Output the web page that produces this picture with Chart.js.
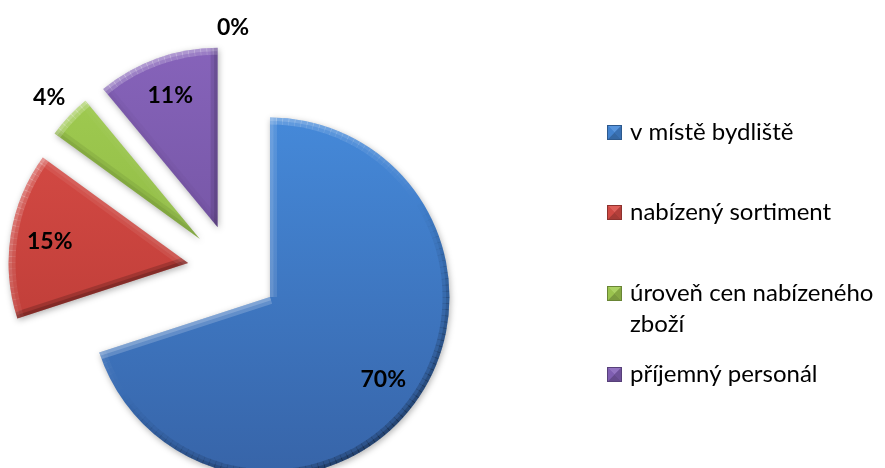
<!DOCTYPE html>
<html>
<head>
<meta charset="utf-8">
<script src="https://cdn.jsdelivr.net/npm/chart.js@4.4.1/dist/chart.umd.min.js"></script>
<style>
  html, body { margin: 0; padding: 0; background: #ffffff; }
  #wrap { width: 885px; height: 468px; }
</style>
</head>
<body>
<div id="wrap"><canvas id="chart" width="885" height="468"></canvas></div>
<script>
// Categories and their shares (percent)
const categories = ['v místě bydliště', 'nabízený sortiment', 'úroveň cen nabízeného zboží', 'příjemný personál', 'ostatní'];
const shares = [70, 15, 4, 11, 0];
// Slice colours: lighter top tone and darker bottom tone of each slice
const topColors = ['#4589d9', '#da4d47', '#a2cd52', '#8663ba', '#f7964a'];
const bottomColors = ['#3764a8', '#b43833', '#82ad3c', '#694c95', '#d4782e'];

const EXPLODE = 45.6;      // distance every slice is pulled away from the centre
const BEVEL = 7;           // width of the bevelled rim
const LIGHT = (() => { const x = -0.55, y = -0.85, l = Math.hypot(x, y); return { x: x / l, y: y / l }; })();
const LABEL_FONT = 'bold 23px Lato, "Liberation Sans", sans-serif';
const LEGEND_FONT = '24px Lato, "Liberation Sans", sans-serif';

function slicePath(ctx, x, y, r, a0, a1) {
  ctx.beginPath();
  ctx.moveTo(x, y);
  ctx.arc(x, y, r, a0, a1);
  ctx.closePath();
}

function shadeFor(nx, ny) {
  const k = nx * LIGHT.x + ny * LIGHT.y;
  return k >= 0 ? 'rgba(255,255,255,' + (0.36 * k).toFixed(3) + ')'
                : 'rgba(0,0,0,' + (0.34 * -k).toFixed(3) + ')';
}

function strokeBevel(ctx, color, drawSeg) {
  ctx.strokeStyle = color;
  ctx.lineCap = 'butt';
  ctx.lineWidth = BEVEL * 2;
  ctx.globalAlpha = 0.55;
  ctx.beginPath(); drawSeg(); ctx.stroke();
  ctx.lineWidth = BEVEL;
  ctx.beginPath(); drawSeg(); ctx.stroke();
  ctx.globalAlpha = 1;
}

// Draws the pie slices pulled apart, each with a bevelled rim
const explodedSlices = {
  id: 'explodedSlices',
  beforeDatasetDraw(chart, args) {
    const ctx = chart.ctx;
    const meta = args.meta;
    meta.data.forEach((arc, i) => {
      const { x, y, startAngle: a0, endAngle: a1, outerRadius: r } = arc;
      if (a1 - a0 <= 0) return;
      const mid = (a0 + a1) / 2;
      ctx.save();
      ctx.translate(Math.cos(mid) * EXPLODE, Math.sin(mid) * EXPLODE);

      const fill = ctx.createLinearGradient(0, y - r, 0, y + r);
      fill.addColorStop(0, topColors[i]);
      fill.addColorStop(1, bottomColors[i]);
      ctx.shadowColor = 'rgba(0,0,0,0.3)';
      ctx.shadowBlur = 6;
      ctx.shadowOffsetX = 1;
      ctx.shadowOffsetY = 2;
      slicePath(ctx, x, y, r, a0, a1);
      ctx.fillStyle = fill;
      ctx.fill();
      ctx.shadowColor = 'transparent';

      slicePath(ctx, x, y, r, a0, a1);
      ctx.clip();
      // radial edges
      strokeBevel(ctx, shadeFor(Math.sin(a0), -Math.cos(a0)), () => {
        ctx.moveTo(x, y); ctx.lineTo(x + Math.cos(a0) * r, y + Math.sin(a0) * r);
      });
      strokeBevel(ctx, shadeFor(-Math.sin(a1), Math.cos(a1)), () => {
        ctx.moveTo(x, y); ctx.lineTo(x + Math.cos(a1) * r, y + Math.sin(a1) * r);
      });
      // outer rim in short pieces, each shaded by its own normal
      const step = Math.PI / 90;
      for (let t = a0; t < a1; t += step) {
        const t2 = Math.min(a1, t + step);
        const tm = (t + t2) / 2;
        strokeBevel(ctx, shadeFor(Math.cos(tm), Math.sin(tm)), () => {
          ctx.arc(x, y, r, t, t2 + 0.004);
        });
      }
      ctx.restore();
    });
    return false;
  }
};

// Percentage labels: inside large slices, just outside small ones
const sliceLabels = {
  id: 'sliceLabels',
  afterDraw(chart) {
    const ctx = chart.ctx;
    const meta = chart.getDatasetMeta(0);
    ctx.save();
    ctx.font = LABEL_FONT;
    ctx.fillStyle = '#000000';
    ctx.textAlign = 'center';
    ctx.textBaseline = 'middle';
    meta.data.forEach((arc, i) => {
      const { x, y, startAngle: a0, endAngle: a1, outerRadius: r } = arc;
      const mid = (a0 + a1) / 2;
      const dx = Math.cos(mid), dy = Math.sin(mid);
      const text = shares[i] + '%';
      const w = ctx.measureText(text).width;
      const h = 16;
      let dist;
      if (shares[i] >= 5) {
        dist = r * 0.78;
      } else {
        dist = r + 10 + Math.abs(dx) * w / 2 + Math.abs(dy) * h / 2;
      }
      const cx = x + dx * (EXPLODE + dist);
      const cy = y + dy * (EXPLODE + dist);
      ctx.fillText(text, cx, cy);
    });
    ctx.restore();
  }
};

function wrapWords(ctx, text, maxWidth) {
  const words = text.split(' ');
  const lines = [];
  let line = '';
  words.forEach(wd => {
    const test = line ? line + ' ' + wd : wd;
    if (line && ctx.measureText(test).width > maxWidth) { lines.push(line); line = wd; }
    else line = test;
  });
  if (line) lines.push(line);
  return lines;
}

function mix(hex, target, amt) {
  const n = parseInt(hex.slice(1), 16);
  const c = [(n >> 16) & 255, (n >> 8) & 255, n & 255];
  return 'rgb(' + c.map(v => Math.round(v + (target - v) * amt)).join(',') + ')';
}

// Legend on the right: bevelled square marker and wrapped text
const sideLegend = {
  id: 'sideLegend',
  afterDraw(chart) {
    const ctx = chart.ctx;
    const left = 607, box = 15, textX = 630, firstY = 132, step = 80.7, lineH = 31;
    ctx.save();
    ctx.font = LEGEND_FONT;
    ctx.textBaseline = 'middle';
    ctx.textAlign = 'left';
    let k = 0;
    categories.forEach((name, i) => {
      if (!(shares[i] > 0)) return;
      const cy = firstY + k * step;
      const bx = left, by = Math.round(cy - box / 2);
      const base = topColors[i];
      ctx.fillStyle = mix(base, 0, 0.1);
      ctx.fillRect(bx, by, box, box);
      // pyramid facets
      const cxm = bx + box / 2, cym = by + box / 2;
      const facet = (pts, col) => {
        ctx.beginPath(); ctx.moveTo(pts[0], pts[1]);
        for (let p = 2; p < pts.length; p += 2) ctx.lineTo(pts[p], pts[p + 1]);
        ctx.closePath(); ctx.fillStyle = col; ctx.fill();
      };
      facet([bx, by, bx + box, by, cxm, cym], mix(base, 255, 0.1));
      facet([bx, by + box, bx + box, by + box, cxm, cym], mix(base, 0, 0.25));
      facet([bx, by, bx, by + box, cxm, cym], mix(base, 0, 0.05));
      facet([bx + box, by, bx + box, by + box, cxm, cym], mix(base, 0, 0.18));
      ctx.strokeStyle = mix(base, 0, 0.35);
      ctx.lineWidth = 1;
      ctx.strokeRect(bx + 0.5, by + 0.5, box - 1, box - 1);

      ctx.fillStyle = '#000000';
      const lines = wrapWords(ctx, name, chart.width - textX - 2);
      lines.forEach((ln, j) => ctx.fillText(ln, textX, cy + j * lineH));
      k++;
    });
    ctx.restore();
  }
};

new Chart(document.getElementById('chart'), {
  type: 'pie',
  data: {
    labels: categories,
    datasets: [{
      data: shares,
      backgroundColor: topColors,
      borderWidth: 0,
      hoverBorderWidth: 0,
      offset: 0,
      hoverOffset: 0
    }]
  },
  options: {
    responsive: false,
    devicePixelRatio: 1,
    animation: false,
    events: [],
    layout: { padding: { left: 53.6, right: 472.4, top: 90.7, bottom: 18.3 } },
    plugins: {
      legend: { display: false },
      tooltip: { enabled: false }
    }
  },
  plugins: [explodedSlices, sliceLabels, sideLegend]
});
</script>
</body>
</html>
